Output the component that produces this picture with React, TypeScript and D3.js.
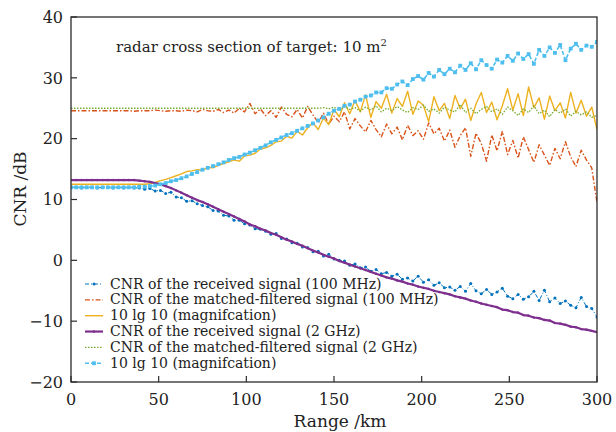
import React from 'react';
import * as d3 from 'd3';

const rangeKm = [
  0, 3, 6, 9, 12, 15, 18, 21, 24, 27,
  30, 33, 36, 39, 42, 45, 48, 51, 54, 57,
  60, 63, 66, 69, 72, 75, 78, 81, 84, 87,
  90, 93, 96, 99, 102, 105, 108, 111, 114, 117,
  120, 123, 126, 129, 132, 135, 138, 141, 144, 147,
  150, 153, 156, 159, 162, 165, 168, 171, 174, 177,
  180, 183, 186, 189, 192, 195, 198, 201, 204, 207,
  210, 213, 216, 219, 222, 225, 228, 231, 234, 237,
  240, 243, 246, 249, 252, 255, 258, 261, 264, 267,
  270, 273, 276, 279, 282, 285, 288, 291, 294, 297,
  300,
];

const cnrReceived100M = [
  12.0, 12.0, 11.9, 12.0, 12.0, 11.9, 12.0, 12.0, 11.9, 12.0,
  11.9, 12.0, 11.9, 11.9, 11.7, 11.8, 11.4, 11.5, 11.0, 11.2,
  10.4, 10.3, 9.7, 9.8, 9.3, 9.0, 8.8, 8.2, 8.1, 7.4,
  7.3, 6.6, 6.6, 6.0, 5.8, 5.2, 5.1, 4.8, 4.3, 4.4,
  3.6, 3.5, 2.9, 2.8, 2.2, 2.1, 1.4, 1.5, 0.7, 1.0,
  0.2, 0.0, -0.1, -0.8, -0.6, -1.2, -1.1, -1.8, -1.5, -2.2,
  -2.0, -2.6, -2.3, -3.1, -2.9, -3.4, -2.6, -3.6, -3.2, -4.1,
  -3.7, -4.5, -4.4, -4.9, -4.3, -5.1, -3.8, -5.0, -5.5, -4.8,
  -5.6, -5.2, -4.6, -5.9, -6.3, -5.6, -6.4, -6.0, -5.1, -6.6,
  -4.9, -6.8, -6.2, -7.1, -6.7, -7.4, -7.8, -6.1, -7.6, -7.9,
  -9.3,
];

const cnrMatched100M = [
  24.6, 24.6, 24.6, 24.6, 24.6, 24.6, 24.6, 24.6, 24.6, 24.6,
  24.6, 24.6, 24.5, 24.6, 24.6, 24.6, 24.7, 24.6, 24.5, 24.6,
  24.6, 24.5, 24.7, 24.6, 24.4, 24.8, 24.6, 24.5, 24.8, 24.3,
  24.7, 24.2, 25.0, 24.4, 25.8, 24.1, 24.9, 23.8, 24.6, 23.5,
  25.2, 24.0, 23.6, 24.8, 23.4, 25.3, 23.9, 22.6, 24.2, 22.4,
  23.7, 22.8, 24.4, 21.6, 23.3, 22.1, 21.1, 23.0, 21.5, 20.3,
  22.4, 20.8, 21.9, 19.8, 22.2, 20.5, 21.3, 19.9, 22.6, 20.8,
  21.7, 19.6, 21.4, 18.6, 20.5, 21.8, 17.1, 20.9, 19.2, 16.3,
  20.6, 18.0, 21.2, 17.4, 19.7, 16.8, 20.3, 18.2, 16.1, 19.0,
  17.3, 15.6, 18.4, 16.7, 19.5, 17.0, 15.4, 18.1, 16.5, 15.2,
  9.5,
];

const magnification100M = [
  12.5, 12.5, 12.5, 12.5, 12.5, 12.5, 12.5, 12.5, 12.5, 12.5,
  12.5, 12.5, 12.5, 12.5, 12.5, 12.6, 12.8, 13.1, 13.3, 13.6,
  13.9, 14.2, 14.6, 14.7, 14.9, 14.8, 15.3, 15.2, 15.6, 15.9,
  16.2, 16.5, 16.3, 17.2, 17.3, 17.6, 18.3, 18.5, 18.9, 19.5,
  19.6, 20.4, 20.1, 21.2, 20.6, 21.8, 22.6, 21.5, 23.4, 22.3,
  24.8, 23.6, 25.9, 24.1, 26.3, 24.4, 27.2, 23.5, 26.1, 25.0,
  27.3, 24.2, 26.6, 25.3, 27.8, 24.0, 26.2, 25.5, 22.8, 26.9,
  24.6, 25.8, 23.3, 27.1, 24.9, 26.5, 23.0, 25.7, 27.6, 24.3,
  26.0, 23.1, 25.4, 28.2, 24.7, 27.4, 23.8, 28.5, 25.1, 26.7,
  23.2, 27.0, 24.6, 25.9, 23.4, 27.6, 24.2, 26.3, 23.7, 25.2,
  21.5,
];

const cnrReceived2G = [
  13.2, 13.2, 13.2, 13.2, 13.2, 13.2, 13.2, 13.2, 13.2, 13.2,
  13.2, 13.2, 13.2, 13.1, 13.0, 12.9, 12.7, 12.5, 12.2, 11.9,
  11.5, 11.1, 10.7, 10.3, 9.9, 9.6, 9.2, 8.8, 8.4, 8.0,
  7.6, 7.2, 6.8, 6.4, 5.9, 5.6, 5.2, 4.9, 4.5, 4.2,
  3.8, 3.4, 3.1, 2.7, 2.4, 2.0, 1.6, 1.3, 0.9, 0.6,
  0.3, -0.1, -0.4, -0.7, -1.0, -1.3, -1.6, -1.9, -2.2, -2.5,
  -2.8, -3.0, -3.3, -3.5, -3.8, -4.0, -4.3, -4.5, -4.7, -5.0,
  -5.2, -5.4, -5.6, -5.9, -6.1, -6.3, -6.6, -6.8, -7.1, -7.3,
  -7.5, -7.7, -8.1, -8.2, -8.5, -8.6, -9.0, -9.1, -9.4, -9.5,
  -9.8, -9.9, -10.3, -10.4, -10.6, -10.9, -11.0, -11.3, -11.4, -11.6,
  -11.8,
];

const cnrMatched2G = [
  25.0, 25.0, 25.0, 25.0, 25.0, 25.0, 25.0, 25.0, 25.0, 25.0,
  25.0, 25.0, 25.0, 25.0, 25.0, 25.0, 25.0, 25.0, 25.0, 25.0,
  25.0, 25.0, 25.0, 25.0, 25.0, 25.0, 25.0, 25.0, 25.0, 25.0,
  25.0, 25.0, 25.0, 25.0, 25.0, 25.0, 25.0, 25.0, 25.0, 25.0,
  25.0, 25.0, 25.0, 25.0, 25.0, 25.0, 25.0, 25.0, 25.1, 24.9,
  25.2, 24.6, 25.3, 24.8, 25.1, 24.5, 25.2, 24.7, 25.4, 24.4,
  25.0, 24.6, 25.3, 24.7, 24.3, 25.1, 24.8, 25.5, 24.5, 24.9,
  24.2, 25.2, 24.7, 24.4, 25.6, 24.3, 25.0, 24.1, 24.8, 25.3,
  24.4, 24.9, 24.0, 25.2, 24.6, 23.8, 24.9, 24.3, 25.4, 24.1,
  24.7, 23.6, 24.8, 24.2, 24.9, 23.7, 24.5, 23.9, 24.4, 23.5,
  23.8,
];

const magnification2G = [
  12.0, 12.0, 12.0, 12.0, 12.0, 12.0, 12.0, 12.0, 12.0, 12.0,
  12.0, 12.0, 12.0, 12.1, 12.1, 12.2, 12.3, 12.5, 12.7, 13.0,
  13.2, 13.5, 13.8, 14.2, 14.5, 14.9, 15.2, 15.5, 15.8, 16.1,
  16.5, 16.8, 17.0, 17.4, 17.7, 18.1, 18.5, 18.9, 19.4, 19.8,
  20.2, 20.6, 20.9, 21.3, 21.7, 22.1, 22.5, 23.0, 23.5, 24.1,
  24.6, 24.9, 25.4, 25.6, 26.1, 26.4, 26.9, 27.1, 27.6, 27.6,
  28.3, 28.2, 28.9, 29.4, 28.8, 29.8, 30.3, 29.7, 30.8, 30.2,
  31.3, 30.6, 31.5, 30.9, 32.0, 31.3, 32.4, 31.4, 32.9, 32.1,
  31.5, 33.0, 32.5, 33.6, 32.8, 34.0, 33.1, 33.9, 32.3, 34.6,
  33.6, 35.0, 34.1, 35.4, 32.9, 34.8, 35.6, 34.6, 35.3, 35.1,
  35.9,
];

const xTicks = [0, 50, 100, 150, 200, 250, 300];
const yTicks = [-20, -10, 0, 10, 20, 30, 40];

const legendLabels = [
  'CNR of the received signal (100 MHz)',
  'CNR of the matched-filtered signal (100 MHz)',
  '10 lg 10 (magnifcation)',
  'CNR of the received signal (2 GHz)',
  'CNR of the matched-filtered signal (2 GHz)',
  '10 lg 10 (magnifcation)',
];

const FONT = '"DejaVu Serif", serif';

type Style = {
  color: string;
  width: number;
  dash?: string;
  marker?: 'dot' | 'square';
  markerSize?: number;
};

const styles: Style[] = [
  { color: '#0072BD', width: 1, dash: '4,2,1,2', marker: 'dot', markerSize: 1.5 },
  { color: '#D95319', width: 1.4, dash: '5,2,1.5,2' },
  { color: '#EDB120', width: 1.4 },
  { color: '#7E2F8E', width: 2.2, marker: 'dot', markerSize: 1.2 },
  { color: '#77AC30', width: 1.3, dash: '1.5,1.5' },
  { color: '#4DBEEE', width: 1.6, dash: '4,2', marker: 'square', markerSize: 3.8 },
];

const seriesValues = [
  cnrReceived100M,
  cnrMatched100M,
  magnification100M,
  cnrReceived2G,
  cnrMatched2G,
  magnification2G,
];

export default function App() {
  const W = 616;
  const H = 432;
  const left = 71;
  const right = 597;
  const top = 17;
  const bottom = 382;
  const x = d3.scaleLinear().domain([0, 300]).range([left, right]);
  const y = d3.scaleLinear().domain([-20, 40]).range([bottom, top]);
  const line = d3
    .line<number>()
    .x((_, i) => x(rangeKm[i]))
    .y((d) => y(d));

  const axisColor = '#2b2b2b';
  const legendX0 = 85;
  const legendX1 = 103;
  const legendTextX = 110;
  const legendBase = 288.5;
  const legendStep = 15.85;

  const renderMarker = (s: Style, cx: number, cy: number, key: string) => {
    if (s.marker === 'dot') {
      return <circle key={key} cx={cx} cy={cy} r={s.markerSize} fill={s.color} />;
    }
    if (s.marker === 'square') {
      const h = (s.markerSize || 3) / 2;
      return <rect key={key} x={cx - h} y={cy - h} width={h * 2} height={h * 2} fill={s.color} />;
    }
    return null;
  };

  return (
    <svg
      width={W}
      height={H}
      style={{ position: 'absolute', left: 0, top: 0, background: '#fff' }}
      fontFamily={FONT}
    >
      <rect x={0} y={0} width={W} height={H} fill="#fff" />
      <defs>
        <clipPath id="plotClip">
          <rect x={left} y={top} width={right - left} height={bottom - top} />
        </clipPath>
      </defs>

      <g clipPath="url(#plotClip)">
        {seriesValues.map((vals, si) => {
          const s = styles[si];
          return (
            <g key={si}>
              <path
                d={line(vals) || ''}
                fill="none"
                stroke={s.color}
                strokeWidth={s.width}
                strokeDasharray={s.dash}
                strokeLinejoin="round"
              />
              {s.marker &&
                vals.map((v, i) => renderMarker(s, x(rangeKm[i]), y(v), `m${si}-${i}`))}
            </g>
          );
        })}
      </g>

      <rect
        x={left}
        y={top}
        width={right - left}
        height={bottom - top}
        fill="none"
        stroke={axisColor}
        strokeWidth={1.3}
      />

      {yTicks.map((t) => (
        <g key={`yt${t}`}>
          <line x1={left} x2={left + 6} y1={y(t)} y2={y(t)} stroke={axisColor} strokeWidth={1.2} />
          <text x={63} y={y(t)} dy="0.36em" textAnchor="end" fontSize={16} fill="#222">
            {t < 0 ? `\u2212${Math.abs(t)}` : t}
          </text>
        </g>
      ))}

      {xTicks.map((t) => (
        <g key={`xt${t}`}>
          <line x1={x(t)} x2={x(t)} y1={bottom} y2={bottom - 6} stroke={axisColor} strokeWidth={1.2} />
          <text x={x(t)} y={405} textAnchor="middle" fontSize={16} fill="#222">
            {t}
          </text>
        </g>
      ))}

      <text x={(left + right) / 2 + 6} y={427} textAnchor="middle" fontSize={17} fill="#222">
        Range /km
      </text>
      <text transform={`translate(26, 189) rotate(-90)`} textAnchor="middle" fontSize={17} fill="#222">
        CNR /dB
      </text>

      <text x={116} y={52} fontSize={15} fill="#222">
        radar cross section of target: 10 m
        <tspan dy={-6} fontSize={10}>
          2
        </tspan>
      </text>

      {legendLabels.map((lab, i) => {
        const s = styles[i];
        const by = legendBase + i * legendStep;
        const ly = by - 4.5;
        return (
          <g key={`lg${i}`}>
            <line
              x1={legendX0}
              x2={legendX1}
              y1={ly}
              y2={ly}
              stroke={s.color}
              strokeWidth={s.width}
              strokeDasharray={s.dash}
            />
            {renderMarker(s, (legendX0 + legendX1) / 2, ly, `lm${i}`)}
            <text x={legendTextX} y={by} fontSize={14} fill="#222">
              {lab}
            </text>
          </g>
        );
      })}
    </svg>
  );
}
